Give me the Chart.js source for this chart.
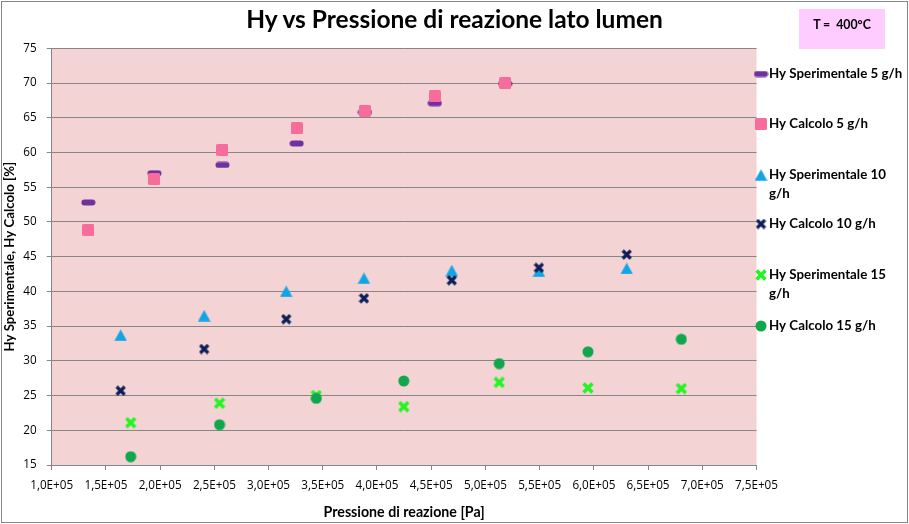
<!DOCTYPE html>
<html>
<head>
<meta charset="utf-8">
<script src="https://cdn.jsdelivr.net/npm/chart.js@4/dist/chart.umd.min.js"></script>
<style>
  html, body { margin: 0; padding: 0; background: #fff; }
  #wrap { position: relative; width: 909px; height: 524px; }
  #c { position: absolute; left: 0; top: 0; }
  #frame { position: absolute; left: 1px; top: 1px; width: 907px; height: 522px; box-sizing: border-box; border: 1px solid #868686; pointer-events: none; }
  #title { position: absolute; left: 0; top: 3px; width: 909px; height: 32px; line-height: 32px; text-align: center; font-family: Lato, sans-serif; font-weight: bold; font-size: 24.5px; color: #000; white-space: nowrap; }
  #tbox { position: absolute; left: 799px; top: 9px; width: 86px; height: 40px; background: #FFCCFF; font-family: Lato, sans-serif; font-weight: bold; font-size: 12.3px; line-height: 32px; text-align: center; white-space: pre; color: #000; }
</style>
</head>
<body>
<div id="wrap">
  <canvas id="c" width="909" height="524"></canvas>
  <div id="frame"></div>
  <div id="title"></div>
  <div id="tbox">T =  400°C</div>
</div>
<script>
// ---- data ----
const seriesNames = ['Hy Sperimentale 5 g/h', 'Hy Calcolo 5 g/h', 'Hy Sperimentale 10 g/h', 'Hy Calcolo 10 g/h', 'Hy Sperimentale 15 g/h', 'Hy Calcolo 15 g/h'];
const pressure5 = [1.338e5, 1.947e5, 2.575e5, 3.259e5, 3.889e5, 4.533e5, 5.182e5];
const hyExp5 = [52.8, 57.0, 58.2, 61.3, 65.8, 67.1, 69.9];
const hyCalc5 = [48.9, 56.2, 60.4, 63.5, 66.0, 68.1, 70.0];
const pressure10 = [1.636e5, 2.406e5, 3.163e5, 3.880e5, 4.690e5, 5.493e5, 6.303e5];
const hyExp10 = [33.7, 36.5, 40.0, 41.9, 43.0, 42.9, 43.3];
const hyCalc10 = [25.7, 31.7, 36.0, 39.0, 41.6, 43.4, 45.3];
const pressure15 = [1.729e5, 2.548e5, 3.440e5, 4.247e5, 5.127e5, 5.946e5, 6.807e5];
const hyExp15 = [21.1, 23.9, 25.0, 23.4, 26.9, 26.1, 26.0];
const hyCalc15 = [16.2, 20.8, 24.6, 27.1, 29.6, 31.3, 33.1];
const xTickLabels = ['1,0E+05','1,5E+05','2,0E+05','2,5E+05','3,0E+05','3,5E+05','4,0E+05','4,5E+05','5,0E+05','5,5E+05','6,0E+05','6,5E+05','7,0E+05','7,5E+05'];
const yTickLabels = ['15','20','25','30','35','40','45','50','55','60','65','70','75'];
const chartTitle = 'Hy vs Pressione di reazione lato lumen';
const xTitle = 'Pressione di reazione [Pa]';
const yTitle = 'Hy Sperimentale, Hy Calcolo [%]';
const legendLines = [['Hy Sperimentale 5 g/h'], ['Hy Calcolo 5 g/h'], ['Hy Sperimentale 10', 'g/h'], ['Hy Calcolo 10 g/h'], ['Hy Sperimentale 15', 'g/h'], ['Hy Calcolo 15 g/h']];

document.getElementById('title').textContent = chartTitle;

// ---- marker images ----
function mk(w, h, draw) {
  const c = document.createElement('canvas');
  c.width = w; c.height = h;
  draw(c.getContext('2d'), w, h);
  return c;
}
function rr(g, x, y, w, h, r) {
  g.beginPath();
  g.moveTo(x + r, y); g.lineTo(x + w - r, y); g.arcTo(x + w, y, x + w, y + r, r);
  g.lineTo(x + w, y + h - r); g.arcTo(x + w, y + h, x + w - r, y + h, r);
  g.lineTo(x + r, y + h); g.arcTo(x, y + h, x, y + h - r, r);
  g.lineTo(x, y + r); g.arcTo(x, y, x + r, y, r);
  g.closePath();
}
const mDash = mk(15, 7, (g) => { g.fillStyle = '#7030A0'; rr(g, 0.5, 0.5, 14, 6, 3); g.fill(); });
const mSquare = mk(12, 12, (g) => { g.fillStyle = '#F86C9C'; rr(g, 0, 0, 12, 12, 1.5); g.fill(); });
const mTri = mk(13, 12, (g) => { g.fillStyle = '#12A5E6'; g.beginPath(); g.moveTo(6.5, 0.3); g.lineTo(12.8, 11.7); g.lineTo(0.2, 11.7); g.closePath(); g.fill(); });
const mX = mk(11, 11, (g) => { g.strokeStyle = '#0C1E58'; g.lineWidth = 3.2; g.beginPath(); g.moveTo(1.5, 1.5); g.lineTo(9.5, 9.5); g.moveTo(9.5, 1.5); g.lineTo(1.5, 9.5); g.stroke(); });
const mGX = mk(12, 12, (g) => { g.strokeStyle = '#22F522'; g.lineWidth = 3.6; g.beginPath(); g.moveTo(1.6, 1.6); g.lineTo(10.4, 10.4); g.moveTo(10.4, 1.6); g.lineTo(1.6, 10.4); g.stroke(); });
const mCirc = mk(12, 12, (g) => { g.fillStyle = '#10A64C'; g.beginPath(); g.arc(6, 6, 5.5, 0, Math.PI * 2); g.fill(); });
const markers = [mDash, mSquare, mTri, mX, mGX, mCirc];

const xs = [pressure5, pressure5, pressure10, pressure10, pressure15, pressure15];
const ys = [hyExp5, hyCalc5, hyExp10, hyCalc10, hyExp15, hyCalc15];
const datasets = seriesNames.map((name, i) => ({
  label: name,
  data: xs[i].map((x, j) => ({ x: x, y: ys[i][j] })),
  pointStyle: markers[i],
  showLine: false,
  order: 6 - i
}));

const plotBg = {
  id: 'plotBg',
  beforeDraw(chart) {
    const a = chart.chartArea, ctx = chart.ctx;
    ctx.save();
    ctx.fillStyle = '#F3D3D3';
    ctx.fillRect(a.left, a.top, a.right - a.left, a.bottom - a.top);
    ctx.restore();
  }
};
const legendYs = [74, 124, 175, 224, 275, 326];
const sideLegend = {
  id: 'sideLegend',
  afterDraw(chart) {
    const ctx = chart.ctx;
    ctx.save();
    ctx.font = 'bold 13.3px Lato, sans-serif';
    ctx.fillStyle = '#000';
    ctx.textBaseline = 'middle';
    ctx.textAlign = 'left';
    legendLines.forEach((lines, i) => {
      const y = legendYs[i];
      const m = markers[i];
      ctx.drawImage(m, 761 - m.width / 2, y - m.height / 2);
      lines.forEach((t, k) => ctx.fillText(t, 769, y + k * 18.5));
    });
    ctx.restore();
  }
};

new Chart(document.getElementById('c'), {
  type: 'scatter',
  data: { datasets },
  plugins: [plotBg, sideLegend],
  options: {
    responsive: false,
    animation: false,
    layout: { padding: { left: 0, right: 152.5, top: 48.3, bottom: 0 } },
    plugins: {
      legend: { display: false },
      tooltip: { enabled: false },
      title: { display: false }
    },
    scales: {
      x: {
        type: 'linear',
        min: 1e5, max: 7.5e5,
        afterFit(s) { s.height = 59; },
        ticks: {
          stepSize: 5e4, autoSkip: false, maxRotation: 0, color: '#000', padding: 9,
          font: { family: "'Open Sans', sans-serif", size: 11.7 },
          callback: (v, i) => xTickLabels[i]
        },
        grid: { drawOnChartArea: false, drawTicks: true, tickLength: 5, color: '#868686' },
        border: { color: '#868686' },
        title: { display: true, text: xTitle, color: '#000', font: { family: 'Lato', size: 14.2, weight: 'bold' }, padding: { top: 0, bottom: 3 } }
      },
      y: {
        min: 15, max: 75,
        afterFit(s) { s.width = 51.7; },
        ticks: {
          stepSize: 5, color: '#000', padding: 10,
          font: { family: "'Open Sans', sans-serif", size: 11.7 },
          callback: (v, i) => yTickLabels[i]
        },
        grid: { color: '#868686', tickLength: 5 },
        border: { color: '#868686' },
        title: { display: true, text: yTitle, color: '#000', font: { family: 'Lato', size: 13.2, weight: 'bold' }, padding: { top: 2, bottom: 0 } }
      }
    }
  }
});
</script>
</body>
</html>
